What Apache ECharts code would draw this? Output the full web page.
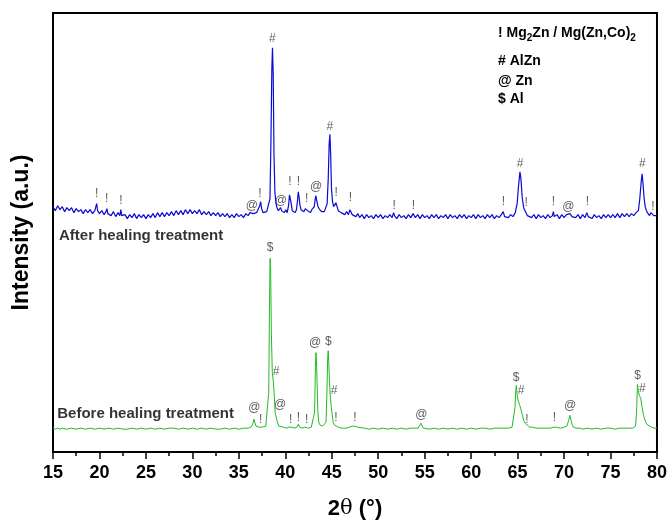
<!DOCTYPE html>
<html>
<head>
<meta charset="utf-8">
<title>XRD patterns</title>
<script src="https://cdn.jsdelivr.net/npm/echarts@6/dist/echarts.min.js"></script>
<style>
    html, body { margin: 0; padding: 0; background: #fff; }
    #xrd { width: 670px; height: 525px; }
</style>
</head>
<body>
<div id="xrd"></div>
<script>
    // 2theta tick labels
    const tickLabels = [15, 20, 25, 30, 35, 40, 45, 50, 55, 60, 65, 70, 75, 80]

    // after healing treatment (upper, blue) : [2theta, intensity a.u.]
    const afterHealing = [
        [15.00, 247], [15.25, 243], [15.50, 248], [15.75, 244], [16.00, 247], [16.25, 242], [16.50, 246], [16.75, 243],
        [17.00, 246], [17.25, 241], [17.50, 245], [17.75, 242], [18.00, 244], [18.25, 240], [18.50, 244], [18.75, 241],
        [19.00, 244], [19.25, 240], [19.50, 243], [19.60, 244], [19.70, 250], [19.80, 243], [20.00, 240], [20.25, 243],
        [20.50, 239], [20.70, 242], [20.80, 245], [20.90, 240], [21.00, 242], [21.25, 238], [21.50, 242], [21.75, 237],
        [22.00, 241], [22.20, 238], [22.30, 244], [22.40, 238], [22.50, 236], [22.75, 239], [23.00, 235], [23.25, 239],
        [23.50, 236], [23.75, 240], [24.00, 235], [24.25, 239], [24.50, 236], [24.75, 239], [25.00, 235], [25.25, 239],
        [25.50, 236], [25.75, 240], [26.00, 236], [26.25, 241], [26.50, 237], [26.75, 241], [27.00, 237], [27.25, 241],
        [27.50, 238], [27.75, 242], [28.00, 238], [28.25, 243], [28.50, 239], [28.75, 243], [29.00, 239], [29.25, 244],
        [29.50, 240], [29.75, 244], [30.00, 240], [30.25, 243], [30.50, 240], [30.75, 244], [31.00, 239], [31.25, 242],
        [31.50, 239], [31.75, 242], [32.00, 238], [32.25, 241], [32.50, 238], [32.75, 241], [33.00, 237], [33.25, 240],
        [33.50, 237], [33.75, 240], [34.00, 236], [34.25, 239], [34.50, 236], [34.75, 240], [35.00, 237], [35.25, 239],
        [35.50, 236], [35.75, 240], [36.00, 238], [36.20, 241], [36.40, 243], [36.55, 240], [36.70, 238], [36.90, 241],
        [37.10, 240], [37.25, 248], [37.35, 252], [37.45, 245], [37.60, 241], [37.80, 239], [38.00, 242], [38.20, 243],
        [38.35, 255], [38.45, 310], [38.55, 385], [38.62, 407], [38.70, 380], [38.78, 300], [38.88, 262], [39.00, 250],
        [39.10, 246], [39.25, 243], [39.40, 245], [39.50, 246], [39.60, 243], [39.75, 245], [39.90, 241], [40.05, 244],
        [40.20, 241], [40.35, 248], [40.45, 259], [40.52, 261], [40.60, 252], [40.75, 243], [40.90, 245], [41.05, 241],
        [41.20, 244], [41.30, 252], [41.40, 262], [41.48, 257], [41.58, 248], [41.70, 244], [41.85, 246], [42.00, 242],
        [42.15, 245], [42.28, 247], [42.40, 243], [42.55, 245], [42.70, 241], [42.85, 244], [43.00, 243], [43.12, 247],
        [43.22, 255], [43.30, 258], [43.38, 253], [43.50, 248], [43.62, 245], [43.75, 246], [43.90, 242], [44.05, 244],
        [44.20, 242], [44.35, 246], [44.50, 250], [44.62, 275], [44.72, 310], [44.80, 320], [44.88, 300], [44.97, 265],
        [45.08, 252], [45.20, 247], [45.35, 248], [45.45, 251], [45.55, 249], [45.70, 243], [45.85, 245], [46.00, 241],
        [46.20, 243], [46.40, 239], [46.60, 242], [46.80, 239], [46.95, 244], [47.05, 243], [47.20, 239], [47.40, 241],
        [47.60, 237], [47.80, 240], [48.00, 236], [48.25, 239], [48.50, 235], [48.75, 239], [49.00, 236], [49.25, 238],
        [49.50, 235], [49.75, 239], [50.00, 236], [50.25, 239], [50.50, 235], [50.75, 238], [51.00, 236], [51.25, 239],
        [51.50, 236], [51.65, 241], [51.75, 238], [52.00, 235], [52.25, 239], [52.50, 236], [52.75, 238], [53.00, 235],
        [53.25, 239], [53.50, 236], [53.75, 240], [54.00, 236], [54.25, 239], [54.50, 235], [54.75, 239], [55.00, 236],
        [55.25, 238], [55.50, 235], [55.75, 239], [56.00, 236], [56.25, 239], [56.50, 235], [56.75, 238], [57.00, 236],
        [57.25, 239], [57.50, 235], [57.75, 239], [58.00, 236], [58.25, 238], [58.50, 235], [58.75, 239], [59.00, 236],
        [59.25, 239], [59.50, 235], [59.75, 238], [60.00, 236], [60.25, 239], [60.50, 235], [60.75, 239], [61.00, 236],
        [61.25, 238], [61.50, 235], [61.75, 239], [62.00, 236], [62.25, 239], [62.50, 235], [62.75, 238], [63.00, 236],
        [63.25, 239], [63.45, 242], [63.60, 237], [63.80, 239], [64.00, 236], [64.25, 239], [64.50, 237], [64.75, 241],
        [64.95, 250], [65.10, 268], [65.25, 282], [65.35, 276], [65.50, 256], [65.65, 246], [65.80, 243], [65.92, 242],
        [66.05, 238], [66.25, 240], [66.50, 236], [66.75, 239], [67.00, 235], [67.25, 239], [67.50, 236], [67.75, 238],
        [68.00, 235], [68.25, 239], [68.50, 236], [68.75, 238], [68.85, 242], [68.95, 237], [69.25, 239], [69.50, 235],
        [69.75, 239], [70.00, 236], [70.25, 239], [70.45, 241], [70.65, 240], [70.85, 237], [71.00, 239], [71.25, 236],
        [71.50, 239], [71.75, 235], [72.00, 239], [72.25, 236], [72.45, 241], [72.60, 237], [72.75, 239], [73.00, 235],
        [73.25, 239], [73.50, 236], [73.75, 238], [74.00, 235], [74.25, 239], [74.50, 236], [74.75, 239], [75.00, 236],
        [75.25, 239], [75.50, 236], [75.75, 240], [76.00, 236], [76.25, 240], [76.50, 237], [76.75, 240], [77.00, 237],
        [77.25, 240], [77.50, 238], [77.75, 241], [78.00, 243], [78.15, 255], [78.30, 272], [78.40, 280], [78.50, 270],
        [78.62, 255], [78.75, 246], [78.90, 242], [79.05, 241], [79.20, 238], [79.35, 241], [79.50, 242], [79.65, 238],
        [79.80, 240], [80.00, 238]
    ]

    // before healing treatment (lower, green)
    const beforeHealing = [
        [15.0, 24], [15.25, 23], [15.5, 24], [15.75, 23], [16.0, 24], [16.5, 23], [17.0, 24], [17.5, 23], [18.0, 24],
        [18.5, 23], [19.0, 24], [19.5, 23], [20.0, 24], [20.5, 23], [21.0, 24], [21.5, 23], [22.0, 24], [22.5, 23],
        [23.0, 23], [23.5, 24], [24.0, 23], [24.5, 24], [25.0, 23], [25.5, 24], [26.0, 23], [26.5, 24], [27.0, 23],
        [27.5, 24], [28.0, 24], [28.5, 23], [29.0, 24], [29.5, 23], [30.0, 24], [30.5, 23], [31.0, 24], [31.5, 23],
        [32.0, 24], [32.5, 23], [33.0, 23], [33.5, 24], [34.0, 23], [34.5, 24], [35.0, 23], [35.5, 24], [36.0, 24],
        [36.3, 25], [36.5, 28], [36.62, 33], [36.72, 31], [36.85, 26], [37.0, 25], [37.2, 25], [37.35, 26], [37.5, 25],
        [37.7, 25], [37.9, 26], [38.1, 28], [38.22, 60], [38.30, 150], [38.36, 195], [38.42, 185], [38.50, 120],
        [38.60, 80], [38.70, 72], [38.80, 60], [38.90, 40], [38.97, 37], [39.05, 38], [39.15, 30], [39.3, 26],
        [39.5, 25], [39.8, 25], [40.1, 24], [40.4, 25], [40.55, 27], [40.7, 25], [41.0, 24], [41.25, 25], [41.4, 28],
        [41.55, 25], [41.8, 24], [42.1, 25], [42.3, 25], [42.5, 24], [42.8, 25], [43.0, 26], [43.15, 40], [43.24, 85],
        [43.30, 100], [43.35, 95], [43.42, 70], [43.50, 42], [43.6, 30], [43.75, 27], [44.0, 26], [44.2, 27],
        [44.38, 30], [44.48, 60], [44.56, 95], [44.62, 102], [44.68, 90], [44.76, 70], [44.85, 55], [44.95, 45],
        [45.05, 38], [45.15, 30], [45.3, 27], [45.5, 27], [45.7, 25], [46.0, 24], [46.3, 24], [46.6, 24], [46.9, 25],
        [47.2, 26], [47.5, 26], [47.8, 25], [48.0, 24], [48.5, 24], [49.0, 23], [49.5, 24], [50.0, 23], [50.5, 24],
        [51.0, 23], [51.5, 24], [52.0, 23], [52.5, 24], [53.0, 23], [53.5, 24], [54.0, 24], [54.3, 24], [54.5, 26],
        [54.6, 29], [54.7, 27], [54.85, 24], [55.0, 24], [55.5, 23], [56.0, 24], [56.5, 23], [57.0, 24], [57.5, 23],
        [58.0, 24], [58.5, 23], [59.0, 24], [59.5, 23], [60.0, 24], [60.5, 23], [61.0, 24], [61.5, 24], [62.0, 23],
        [62.5, 24], [63.0, 24], [63.5, 24], [64.0, 24], [64.4, 25], [64.6, 27], [64.72, 45], [64.80, 62], [64.86, 67],
        [64.95, 58], [65.05, 52], [65.2, 48], [65.35, 46], [65.5, 38], [65.65, 32], [65.8, 29], [66.0, 27], [66.3, 25],
        [66.6, 25], [67.0, 24], [67.5, 24], [68.0, 24], [68.5, 24], [68.9, 25], [69.2, 25], [69.6, 24], [70.0, 25],
        [70.3, 26], [70.5, 32], [70.62, 37], [70.72, 35], [70.85, 28], [71.0, 25], [71.3, 24], [71.7, 24], [72.0, 23],
        [72.5, 24], [73.0, 23], [73.5, 24], [74.0, 23], [74.5, 24], [75.0, 24], [75.5, 23], [76.0, 24], [76.5, 24],
        [77.0, 24], [77.4, 24], [77.7, 26], [77.82, 45], [77.90, 68], [77.98, 62], [78.1, 57], [78.25, 54], [78.4, 45],
        [78.55, 37], [78.7, 32], [78.9, 28], [79.1, 26], [79.4, 25], [79.7, 24], [80.0, 24]
    ]

    // phase marks above the peaks: [2theta, height, symbol]
    const afterMarks = [
        [19.70, 260, '!'], [20.78, 255, '!'], [22.32, 253, '!'], [36.39, 248, '@'], [37.28, 260, '!'],
        [38.60, 416, '#'], [39.51, 253, '@'], [40.50, 272, '!'], [41.40, 272, '!'], [42.30, 255, '!'],
        [43.30, 267, '@'], [44.80, 328, '#'], [45.47, 261, '!'], [47.00, 256, '!'], [51.72, 248, '!'],
        [53.80, 248, '!'], [63.47, 252, '!'], [65.27, 290, '#'], [65.92, 251, '!'], [68.85, 252, '!'],
        [70.47, 247, '@'], [72.51, 252, '!'], [78.43, 290, '#'], [79.55, 247, '!']
    ]
    const beforeMarks = [
        [36.67, 45, '@'], [37.35, 33, '!'], [38.36, 206, '$'], [39.00, 81, '#'], [39.43, 48, '@'],
        [40.58, 33, '!'], [41.40, 35, '!'], [42.30, 33, '!'], [43.20, 110, '@'], [44.64, 111, '$'],
        [45.25, 62, '#'], [45.46, 35, '!'], [47.50, 35, '!'], [54.65, 38, '@'], [64.84, 75, '$'],
        [65.38, 62, '#'], [65.99, 33, '!'], [68.96, 35, '!'], [70.65, 47, '@'], [77.90, 77, '$'],
        [78.43, 64, '#']
    ]

    // curve captions
    const captions = [
        [15.65, 218, 'After healing treatment'],
        [15.46, 38, 'Before healing treatment']
    ]

    // phase legend lines (rich text, {s|..} = subscript)
    const phaseLegend = ['{n|! Mg}{s|2}{n|Zn / Mg(Zn,Co)}{s|2}', '{n|# AlZn}', '{n|@ Zn}', '{n|$ Al}']

    const font = 'Liberation Sans, Arial, Helvetica, sans-serif'

    const markSeries = (data) => ({
        type: 'scatter',
        data: data,
        symbolSize: 0,
        silent: true,
        label: {
            show: true,
            position: 'inside',
            formatter: p => p.value[2],
            fontFamily: font,
            fontSize: 12,
            color: '#333'
        }
    })

    const legendTops = [26, 54, 74, 92]

    const option = {
        animation: false,
        backgroundColor: '#fff',
        grid: {
            left: 53, right: 13, top: 13, bottom: 70,
            show: true,
            borderColor: '#000',
            borderWidth: 2
        },
        xAxis: {
            type: 'value',
            min: tickLabels[0],
            max: tickLabels[tickLabels.length - 1],
            interval: 5,
            name: '{b|2}{t|θ}{b| (°)}',
            nameLocation: 'middle',
            nameGap: 46,
            nameTextStyle: {
                rich: {
                    b: { fontFamily: font, fontSize: 22, fontWeight: 'bold', color: '#000' },
                    t: { fontFamily: 'DejaVu Serif, serif', fontSize: 21, color: '#000' }
                }
            },
            axisLine: { lineStyle: { color: '#000', width: 2 } },
            axisTick: { length: 7, lineStyle: { color: '#000', width: 1.5 } },
            minorTick: { show: true, splitNumber: 2, length: 4, lineStyle: { color: '#000', width: 1.5 } },
            splitLine: { show: false },
            axisLabel: { fontFamily: font, fontSize: 18, fontWeight: 'bold', color: '#000', margin: 12 }
        },
        yAxis: {
            type: 'value',
            min: 0,
            max: 442,
            name: 'Intensity (a.u.)',
            nameLocation: 'middle',
            nameGap: 20,
            nameTextStyle: { fontFamily: font, fontSize: 23, fontWeight: 'bold', color: '#000' },
            axisLine: { show: true, lineStyle: { color: '#000', width: 2 } },
            axisTick: { show: false },
            axisLabel: { show: false },
            splitLine: { show: false }
        },
        graphic: phaseLegend.map((t, i) => ({
            type: 'text',
            left: 498,
            top: legendTops[i],
            style: {
                text: t,
                rich: {
                    n: { fontFamily: font, fontSize: 14, fontWeight: 'bold', fill: '#000' },
                    s: { fontFamily: font, fontSize: 10, fontWeight: 'bold', fill: '#000', padding: [10, 0, 0, 0] }
                }
            }
        })),
        series: [
            {
                name: 'After healing treatment',
                type: 'line',
                data: afterHealing,
                showSymbol: false,
                lineStyle: { color: '#0a0ad2', width: 1.2 },
                itemStyle: { color: '#0a0ad2' }
            },
            {
                name: 'Before healing treatment',
                type: 'line',
                data: beforeHealing,
                showSymbol: false,
                lineStyle: { color: '#22bb22', width: 1 },
                itemStyle: { color: '#22bb22' }
            },
            markSeries(afterMarks),
            markSeries(beforeMarks),
            {
                type: 'scatter',
                data: captions,
                symbolSize: 0,
                silent: true,
                label: {
                    show: true,
                    position: 'right',
                    distance: 0,
                    formatter: p => p.value[2],
                    fontFamily: font,
                    fontSize: 15,
                    fontWeight: 'bold',
                    color: '#000'
                }
            }
        ]
    }

    const chart = echarts.init(document.getElementById('xrd'))
    chart.setOption(option)
    window.addEventListener('resize', () => chart.resize())
</script>
</body>
</html>
